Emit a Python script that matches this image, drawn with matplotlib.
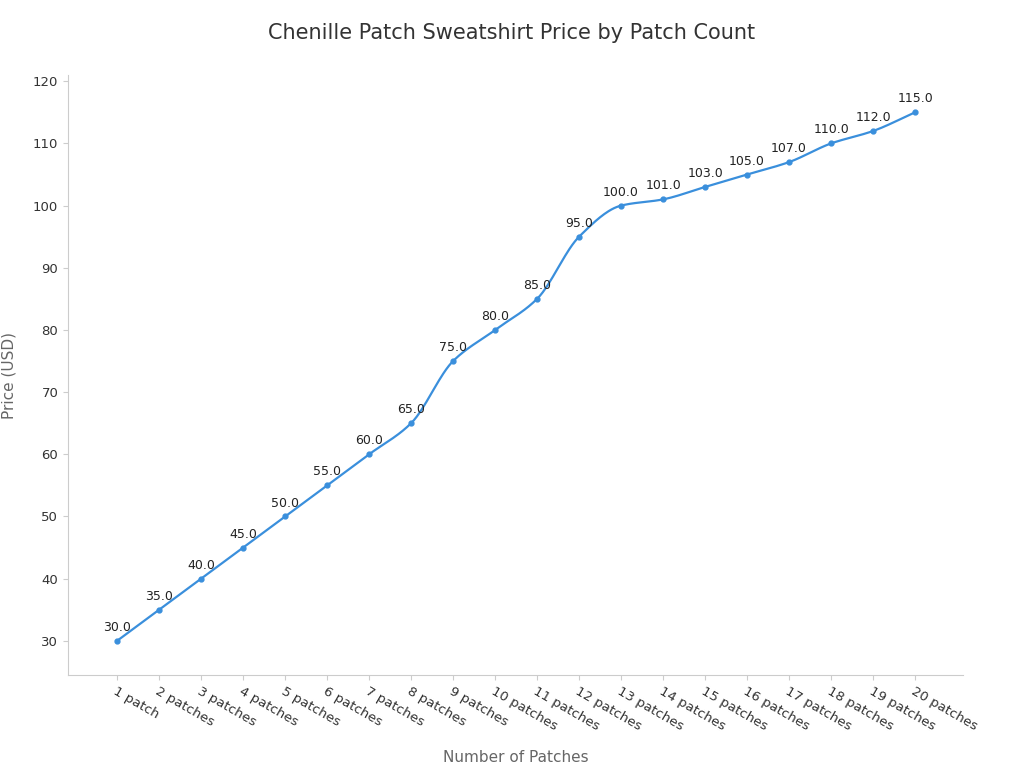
import numpy as np
import matplotlib
matplotlib.use("Agg")
import matplotlib.pyplot as plt

categories = ["1 patch"] + [f"{i} patches" for i in range(2, 21)]
prices = [30, 35, 40, 45, 50, 55, 60, 65, 75, 80, 85, 95, 100, 101, 103, 105, 107, 110, 112, 115]

def monotone(x, y, n=30):
    x = np.asarray(x, float); y = np.asarray(y, float)
    h = np.diff(x); d = np.diff(y) / h
    m = np.zeros_like(y)
    m[0], m[-1] = d[0], d[-1]
    for i in range(1, len(y) - 1):
        if d[i-1] * d[i] <= 0:
            m[i] = 0
        else:
            m[i] = 3 * (h[i-1] + h[i]) / ((2*h[i] + h[i-1]) / d[i-1] + (h[i] + 2*h[i-1]) / d[i])
    xs, ys = [], []
    for i in range(len(x) - 1):
        t = np.linspace(0, 1, n, endpoint=False)
        h00 = 2*t**3 - 3*t**2 + 1; h10 = t**3 - 2*t**2 + t
        h01 = -2*t**3 + 3*t**2; h11 = t**3 - t**2
        xs.append(x[i] + t*h[i])
        ys.append(h00*y[i] + h10*h[i]*m[i] + h01*y[i+1] + h11*h[i]*m[i+1])
    xs.append([x[-1]]); ys.append([y[-1]])
    return np.concatenate(xs), np.concatenate(ys)

fig = plt.figure(figsize=(10.24, 7.68), dpi=100)
ax = fig.add_axes([0.0664, 0.1211, 0.874, 0.7812])
color = "#3a8fdc"
x = np.arange(len(prices))
sx, sy = monotone(x, prices)
ax.plot(sx, sy, color=color, lw=1.6)
ax.plot(x, prices, "o", color=color, ms=3.5)
for xi, p in zip(x, prices):
    ax.annotate(f"{p:.1f}", (xi, p), xytext=(0, 5), textcoords="offset points",
                ha="center", va="bottom", fontsize=9, color="#222222")

ax.set_xlim(-1.17, 20.14)
ax.set_ylim(24.5, 121)
ax.set_yticks(range(30, 121, 10))
ax.set_xticks(x)
ax.set_xticklabels(categories, rotation=-30, ha="left", rotation_mode="anchor", fontsize=9.5, color="#333333")
ax.tick_params(axis="y", labelsize=9.5, labelcolor="#333333", color="#cccccc")
ax.tick_params(axis="x", color="#cccccc")
for s in ["top", "right"]:
    ax.spines[s].set_visible(False)
for s in ["left", "bottom"]:
    ax.spines[s].set_color("#cccccc")
ax.set_xlabel("Number of Patches", fontsize=11, color="#666666", labelpad=12)
ax.set_ylabel("Price (USD)", fontsize=11, color="#666666", labelpad=12)
fig.text(0.5, 0.957, "Chenille Patch Sweatshirt Price by Patch Count", ha="center", va="center",
         fontsize=15, color="#333333")
fig.savefig("out.png", dpi=100)
